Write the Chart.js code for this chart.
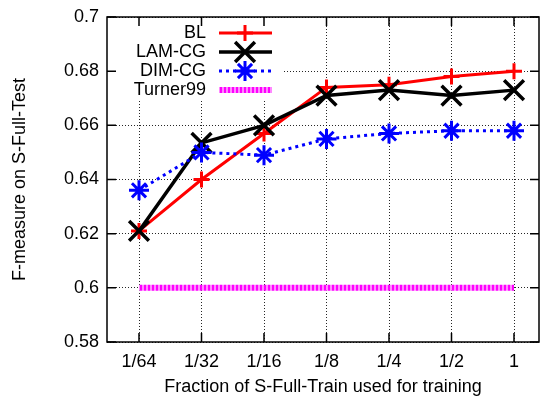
<!DOCTYPE html>
<html><head><meta charset="utf-8">
<script src="https://cdn.jsdelivr.net/npm/chart.js@4"></script>
<style>html,body{margin:0;padding:0;background:#fff}#c{display:block}</style>
</head><body>
<canvas id="c" width="540" height="396"></canvas>
<script>
const categories = ['1/64','1/32','1/16','1/8','1/4','1/2','1'];
const blValues = [0.621,0.640,0.657,0.674,0.675,0.678,0.680];
const lamValues = [0.621,0.6535,0.660,0.671,0.673,0.671,0.673];
const dimValues = [0.636,0.650,0.649,0.655,0.657,0.658,0.658];
const turnerValues = [0.600,0.600,0.600,0.600,0.600,0.600,0.600];
const yTickValues = [0.58,0.6,0.62,0.64,0.66,0.68,0.7];
const yTickLabels = ['0.58','0.6','0.62','0.64','0.66','0.68','0.7'];
const seriesNames = ['BL','LAM-CG','DIM-CG','Turner99'];

const FONT = '"Liberation Sans", Arial, Helvetica, sans-serif';
const pts = vals => vals.map((v,i)=>({x:i,y:v}));

function hatchPattern(){
  const t = document.createElement('canvas');
  t.width = 4; t.height = 8;
  const c = t.getContext('2d');
  c.fillStyle = '#ff88ff'; c.fillRect(0,0,4,8);
  c.fillStyle = '#ff00ff'; c.fillRect(0,0,2,8);
  return document.getElementById('c').getContext('2d').createPattern(t,'repeat');
}

function drawMarker(ctx, style, r, x, y){
  ctx.beginPath();
  if (style==='cross' || style==='star'){
    ctx.moveTo(x-r,y); ctx.lineTo(x+r,y); ctx.moveTo(x,y-r); ctx.lineTo(x,y+r);
  }
  if (style==='crossRot' || style==='star'){
    const o = Math.cos(Math.PI/4)*r;
    ctx.moveTo(x-o,y-o); ctx.lineTo(x+o,y+o); ctx.moveTo(x-o,y+o); ctx.lineTo(x+o,y-o);
  }
  ctx.stroke();
}

const gpPlugin = {
  id:'gp',
  beforeDatasetsDraw(chart){
    const {ctx, chartArea:a} = chart;
    ctx.save(); ctx.fillStyle='#fff';
    ctx.fillRect(a.left+1, a.top+1, 283-a.left-1, 100-a.top-1);
    ctx.restore();
  },
  afterDatasetsDraw(chart){
    const ctx = chart.ctx;
    chart.data.datasets.forEach((ds,i)=>{
      const y = 33 + i*19;
      ctx.save();
      ctx.font = '18px '+FONT;
      ctx.fillStyle='#000'; ctx.textAlign='right'; ctx.textBaseline='middle';
      ctx.fillText(ds.label, 206, y);
      ctx.strokeStyle = ds.borderColor; ctx.lineWidth = ds.borderWidth;
      ctx.setLineDash(ds.borderDash || []);
      ctx.beginPath(); ctx.moveTo(219,y); ctx.lineTo(272,y); ctx.stroke();
      ctx.setLineDash([]);
      if (ds.pointRadius > 0){
        ctx.strokeStyle = ds.pointBorderColor; ctx.lineWidth = ds.pointBorderWidth;
        drawMarker(ctx, ds.pointStyle, ds.pointRadius, 245, y);
      }
      ctx.restore();
    });
  },
  afterDraw(chart){
    const {ctx, chartArea:a, scales} = chart;
    ctx.save(); ctx.strokeStyle='#000'; ctx.lineWidth=1.5;
    ctx.beginPath();
    categories.forEach((c,i)=>{
      const x = scales.x.getPixelForValue(i);
      ctx.moveTo(x,a.bottom); ctx.lineTo(x,a.bottom-9);
      ctx.moveTo(x,a.top); ctx.lineTo(x,a.top+9);
    });
    yTickValues.forEach(v=>{
      const y = scales.y.getPixelForValue(v);
      ctx.moveTo(a.left,y); ctx.lineTo(a.left+9,y);
      ctx.moveTo(a.right,y); ctx.lineTo(a.right-9,y);
    });
    ctx.stroke();
    ctx.strokeRect(a.left, a.top, a.right-a.left, a.bottom-a.top);
    ctx.restore();
  }
};

const gridOpts = {color:'rgba(0,0,0,0.85)', lineWidth:1, drawTicks:false};

new Chart(document.getElementById('c'), {
  type:'line',
  data:{
    datasets:[
      {label:seriesNames[0], data:pts(blValues), borderColor:'#ff0000', borderWidth:3,
       pointStyle:'cross', pointRadius:8, pointBorderWidth:3, pointBorderColor:'#ff0000', order:4},
      {label:seriesNames[1], data:pts(lamValues), borderColor:'#000000', borderWidth:3.5,
       pointStyle:'crossRot', pointRadius:14, pointBorderWidth:3.5, pointBorderColor:'#000000', order:3},
      {label:seriesNames[2], data:pts(dimValues), borderColor:'#0000ff', borderWidth:3, borderDash:[3,4],
       pointStyle:'star', pointRadius:10, pointBorderWidth:3, pointBorderColor:'#0000ff', order:2},
      {label:seriesNames[3], data:pts(turnerValues), borderColor:hatchPattern(), borderWidth:6,
       pointRadius:0, order:1}
    ]
  },
  options:{
    responsive:false, animation:false,
    layout:{autoPadding:false, padding:{left:0,top:17,right:1,bottom:0}},
    plugins:{legend:{display:false}, tooltip:{enabled:false}},
    elements:{line:{tension:0, fill:false}, point:{hoverRadius:0}},
    scales:{
      x:{type:'linear', min:-0.512, max:6.4,
        afterBuildTicks(s){ s.ticks = categories.map((c,i)=>({value:i})); },
        afterFit(s){ s.height = 54; s.paddingLeft = 0; s.paddingRight = 0; },
        ticks:{padding:9, color:'#000', font:{family:FONT,size:18}, callback:v=>categories[v]},
        grid:{...gridOpts},
        border:{display:false, dash:[1,2]},
        title:{display:true, text:'Fraction of S-Full-Train used for training', color:'#000',
               font:{family:FONT,size:18,lineHeight:1}, padding:0}
      },
      y:{type:'linear', min:0.58, max:0.7,
        afterBuildTicks(s){ s.ticks = yTickValues.map(v=>({value:v})); },
        afterFit(s){ s.width = 107; s.paddingTop = 0; s.paddingBottom = 0; },
        ticks:{padding:8, color:'#000', font:{family:FONT,size:18},
               callback:v=>yTickLabels[yTickValues.findIndex(t=>Math.abs(t-v)<1e-9)]},
        grid:{...gridOpts},
        border:{display:false, dash:[1,2]},
        title:{display:true, text:'F-measure on S-Full-Test', color:'#000',
               font:{family:FONT,size:18}, padding:{top:9,bottom:0}}
      }
    }
  },
  plugins:[gpPlugin]
});
</script>
</body></html>
